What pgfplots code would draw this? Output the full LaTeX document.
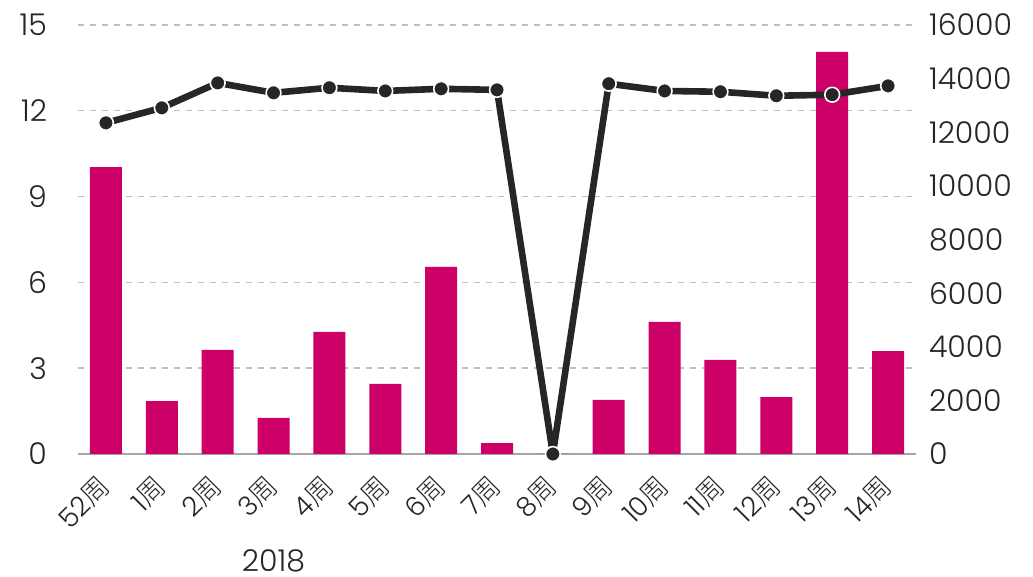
\documentclass[border=0pt]{standalone}
\usepackage{pgfplots}
\usepackage{pgfplotstable}
\pgfplotsset{compat=1.18}
\usepackage{fontspec}
\setmainfont{Poppins}[UprightFont={* Light}]
\newfontfamily\cjk{Noto Sans CJK SC}[UprightFont={* Light}]
\definecolor{barc}{HTML}{CC0066}
\definecolor{linec}{HTML}{262626}
\definecolor{gridc}{HTML}{BFBFBF}
\definecolor{axc}{HTML}{A6A6A6}

\pgfplotstableread{
x bar line
0 10.03 12350
1 1.85 12910
2 3.64 13840
3 1.26 13470
4 4.27 13660
5 2.45 13540
6 6.54 13620
7 0.38 13580
8 0 0
9 1.89 13810
10 4.62 13540
11 3.29 13510
12 1.99 13360
13 14.06 13400
14 3.60 13730
}\data

\begin{document}
\begin{tikzpicture}
\path[use as bounding box] (-39pt,-61.5pt) rectangle (477.5pt,227pt);
\begin{axis}[
  name=ax1, scale only axis, width=419pt, height=214.5pt,
  xmin=-0.5, xmax=14.5, ymin=0, ymax=15,
  ytick={0,3,...,15},
  axis y line*=left, axis x line*=bottom,
  y axis line style={draw=none},
  x axis line style={axc, line width=1pt},
  ymajorgrids, grid style={gridc, dashed, line width=0.7pt},
  major tick length=0pt,
  xtick={0,...,14},
  xticklabels={52{\cjk 周},1{\cjk 周},2{\cjk 周},3{\cjk 周},4{\cjk 周},5{\cjk 周},6{\cjk 周},7{\cjk 周},8{\cjk 周},9{\cjk 周},10{\cjk 周},11{\cjk 周},12{\cjk 周},13{\cjk 周},14{\cjk 周}},
  xticklabel style={xshift=-4.5pt, yshift=-9.5pt, rotate=45, anchor=north east, inner sep=0pt, font=\fontsize{13.5}{13.5}\selectfont, text=black!85},
  yticklabel style={font=\fontsize{15}{15}\selectfont, xshift=-12pt, text=black!85},
  /pgf/number format/assume math mode=true,
  clip=false,
]
\addplot[ybar, bar width=16pt, fill=barc, draw=none] table[x=x,y=bar]{\data};
\node[font=\fontsize{15}{15}\selectfont, text=black!85, inner sep=0pt] at (axis cs:3,0) [yshift=-53.5pt] {2018};
\end{axis}
\begin{axis}[
  scale only axis, width=419pt, height=214.5pt,
  xmin=-0.5, xmax=14.5, ymin=0, ymax=16000,
  ytick={0,2000,...,16000},
  axis y line*=right, axis x line=none,
  y axis line style={draw=none},
  major tick length=0pt,
  scaled y ticks=false,
  /pgf/number format/1000 sep={},
  /pgf/number format/assume math mode=true,
  yticklabel style={font=\fontsize{15}{15}\selectfont, anchor=west, xshift=3pt, text=black!85},
  clip=false,
]
\addplot[linec, line width=3.3pt, line join=round, mark=*, mark size=3.7pt,
  mark options={fill=linec, draw=white, line width=0.8pt}] table[x=x,y=line]{\data};
\end{axis}
\end{tikzpicture}
\end{document}
